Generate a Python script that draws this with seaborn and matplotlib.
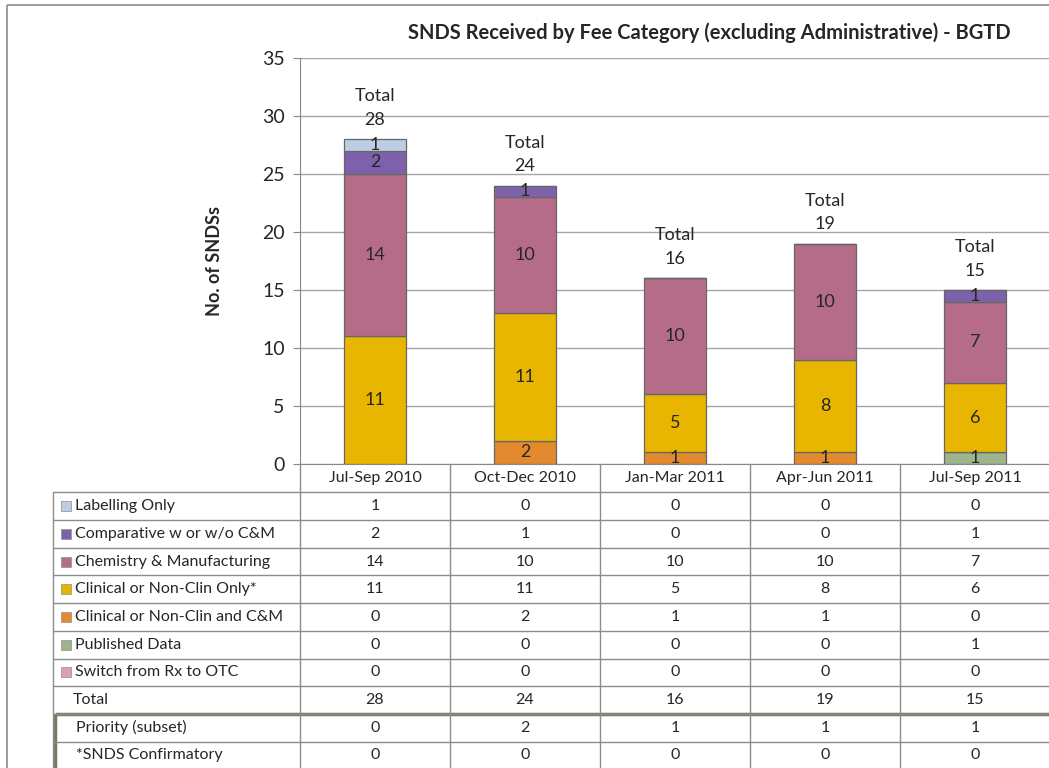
import numpy as np
import pandas as pd
import seaborn as sns
import matplotlib.pyplot as plt
from matplotlib.patches import Rectangle

sns.set_style("white")
plt.rcParams['font.family'] = ['Lato', 'DejaVu Sans']

# data (table order, top to bottom)
quarters = ['Jul-Sep 2010', 'Oct-Dec 2010', 'Jan-Mar 2011', 'Apr-Jun 2011', 'Jul-Sep 2011']
series = ['Labelling Only', 'Comparative w or w/o C&M', 'Chemistry & Manufacturing',
          'Clinical or Non-Clin Only*', 'Clinical or Non-Clin and C&M', 'Published Data',
          'Switch from Rx to OTC']
labelling = [1, 0, 0, 0, 0]
comparative = [2, 1, 0, 0, 1]
chemistry = [14, 10, 10, 10, 7]
clinical_only = [11, 11, 5, 8, 6]
clinical_cm = [0, 2, 1, 1, 0]
published = [0, 0, 0, 0, 1]
switch_otc = [0, 0, 0, 0, 0]
priority = [0, 2, 1, 1, 1]
snds_confirm = [0, 0, 0, 0, 0]
colors = ['#bccfe2', '#7d62ab', '#b46c88', '#e8b600', '#e38a2e', '#9db48c', '#dba0b8']

values = [labelling, comparative, chemistry, clinical_only, clinical_cm, published, switch_otc]
totals = list(np.sum(values, axis=0))

W, H = 1049, 768
fig = plt.figure(figsize=(W / 100, H / 100), dpi=100)

# background layer in pixel coords for frame + data table
tab = fig.add_axes([0, 0, 1, 1])
tab.set_xlim(0, W)
tab.set_ylim(H, 0)
tab.axis('off')

ax_l, ax_r, ax_t, ax_b = 300, 1050, 58, 464
ax = fig.add_axes([ax_l / W, 1 - ax_b / H, (ax_r - ax_l) / W, (ax_b - ax_t) / H])
ax.patch.set_alpha(0)

# stacked bars, bottom to top
df = pd.DataFrame({'quarter': quarters})
bottom = np.zeros(len(quarters))
for name, vals, col in reversed(list(zip(series, values, colors))):
    df['v'] = vals
    sns.barplot(data=df, x='quarter', y='v', bottom=bottom, color=col, saturation=1,
                width=0.41, edgecolor='#666666', linewidth=0.9, ax=ax, zorder=3)
    for i, v in enumerate(vals):
        if v > 0:
            ax.text(i, bottom[i] + v / 2, str(v), ha='center', va='center',
                    fontsize=13, zorder=5)
    bottom += np.array(vals)

for i, t in enumerate(totals):
    ax.annotate(f'Total\n{t}', (i, t), xytext=(0, 8), textcoords='offset points',
                ha='center', va='bottom', fontsize=13, linespacing=1.6, zorder=5)

ax.set_ylim(0, 35)
ax.set_xlim(-0.5, 4.5)
ax.set_yticks(range(0, 36, 5))
ax.yaxis.grid(True, color='#a6a6a6', linewidth=1)
ax.set_axisbelow(True)
ax.tick_params(axis='y', labelsize=14, length=5, color='#888888', direction='out', left=True, pad=6)
ax.tick_params(axis='x', labelsize=11.5, length=0, pad=5)
ax.set_xlabel('')
ax.set_ylabel('No. of SNDSs', fontsize=13, fontweight='bold', labelpad=28)
for s in ['top', 'right']:
    ax.spines[s].set_visible(False)
ax.spines['left'].set_color('#888888')
ax.spines['bottom'].set_color('#888888')

fig.text(709 / W, 1 - 33 / H, 'SNDS Received by Fee Category (excluding Administrative) - BGTD',
         ha='center', va='center', fontsize=14.5, fontweight='bold')

# outer frame
tab.add_patch(Rectangle((7, 5), W, H, fill=False, edgecolor='#8c8c8c', linewidth=1.2))

# data table
gc = '#8c8c8c'
left = 53
top = 492.3
rh = 27.7
col_x = [ax_l + k * 150 for k in range(6)]
rows = series + ['Total', 'Priority (subset)', '*SNDS Confirmatory']
row_vals = values + [totals, priority, snds_confirm]
for k in range(len(rows) + 1):
    tab.plot([left, W], [top + k * rh] * 2, color=gc, lw=1)
tab.plot([left, left], [top, H], color=gc, lw=1)
for x in col_x:
    tab.plot([x, x], [ax_b, H], color=gc, lw=1)
for k, (name, vals) in enumerate(zip(rows, row_vals)):
    yc = top + (k + 0.5) * rh
    if k < len(colors):
        tab.add_patch(Rectangle((61, yc - 5), 10, 10, facecolor=colors[k],
                                edgecolor='#9a9a9a', lw=0.6))
        tx = 75
    else:
        tx = 73 if name == 'Total' else 76
    tab.text(tx, yc, name, ha='left', va='center', fontsize=11.5)
    for i, v in enumerate(vals):
        tab.text(col_x[i] + 75, yc, str(v), ha='center', va='center', fontsize=11.5)

# box around the subset rows
tab.add_patch(Rectangle((left + 2, top + 8 * rh), W, 3 * rh, fill=False,
                        edgecolor='#6f7f60', linewidth=2.5))

fig.savefig('out.png', dpi=100)
